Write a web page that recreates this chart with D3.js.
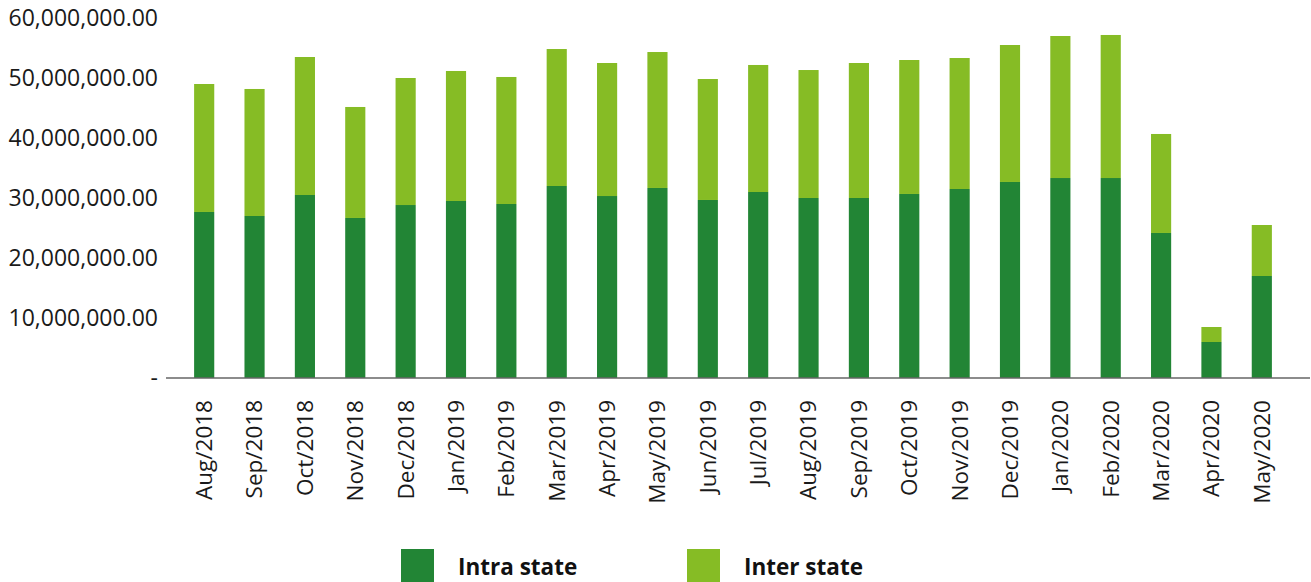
<!DOCTYPE html>
<html>
<head>
<meta charset="utf-8">
<script src="https://cdn.jsdelivr.net/npm/d3@7/dist/d3.min.js"></script>
<style>
  html, body { margin: 0; padding: 0; background: #fff; }
  svg { display: block; font-family: "Open Sans", "Noto Sans", sans-serif; }
</style>
</head>
<body>
<div id="chart"></div>
<script>
// Stacked monthly bars: intra state (dark green) under inter state (light green).

const months = [
  'Aug/2018', 'Sep/2018', 'Oct/2018', 'Nov/2018', 'Dec/2018', 'Jan/2019',
  'Feb/2019', 'Mar/2019', 'Apr/2019', 'May/2019', 'Jun/2019', 'Jul/2019',
  'Aug/2019', 'Sep/2019', 'Oct/2019', 'Nov/2019', 'Dec/2019', 'Jan/2020',
  'Feb/2020', 'Mar/2020', 'Apr/2020', 'May/2020',
];

// values in units
const intraState = [
  27670000, 27000000, 30500000, 26670000, 28830000, 29500000,
  29000000, 32000000, 30330000, 31670000, 29670000, 31000000,
  30000000, 30000000, 30670000, 31500000, 32670000, 33330000,
  33330000, 24170000, 6000000, 17000000,
];
const interState = [
  21330000, 21170000, 23000000, 18500000, 21170000, 21670000,
  21170000, 22830000, 22170000, 22660000, 20160000, 21170000,
  21330000, 22500000, 22330000, 21830000, 22830000, 23670000,
  23840000, 16500000, 2500000, 8500000,
];

const yTicks = [0, 10000000, 20000000, 30000000, 40000000, 50000000, 60000000];
const seriesNames = ['Intra state', 'Inter state'];
const seriesColors = ['#228535', '#86bc25'];

const W = 1311, H = 582;
const svg = d3.select('#chart').append('svg')
  .attr('width', W).attr('height', H)
  .attr('viewBox', `0 0 ${W} ${H}`);

const x = d3.scaleBand()
  .domain(months)
  .range([179, 1287])
  .paddingInner(0.6)
  .paddingOuter(0.3);

const y = d3.scaleLinear()
  .domain([0, 60000000])
  .range([378, 18]);

const rows = months.map((m, i) => ({ month: m, intra: intraState[i], inter: interState[i] }));
const stack = d3.stack().keys(['intra', 'inter'])(rows);

// y labels (accounting style: zero shown as a dash)
const fmt = d3.format(',.2f');
svg.append('g').selectAll('text')
  .data(yTicks)
  .join('text')
  .attr('x', 158)
  .attr('y', (d) => y(d))
  .attr('dy', '0.35em')
  .attr('text-anchor', 'end')
  .attr('font-size', 23)
  .attr('fill', '#1a1a1a')
  .text((d) => (d === 0 ? '-' : fmt(d)));

// bars
svg.append('g').selectAll('g')
  .data(stack)
  .join('g')
  .attr('fill', (s, i) => seriesColors[i])
  .selectAll('rect')
  .data((s) => s)
  .join('rect')
  .attr('x', (d) => x(d.data.month))
  .attr('width', x.bandwidth())
  .attr('y', (d) => y(d[1]))
  .attr('height', (d) => y(d[0]) - y(d[1]));

// baseline
svg.append('line')
  .attr('x1', 166).attr('x2', 1310)
  .attr('y1', y(0)).attr('y2', y(0))
  .attr('stroke', '#666')
  .attr('stroke-width', 1.5);

// month labels, rotated
svg.append('g').selectAll('text')
  .data(months)
  .join('text')
  .attr('transform', (d) => `translate(${x(d) + x.bandwidth() / 2},${y(0) + 22}) rotate(-90)`)
  .attr('dy', '0.35em')
  .attr('text-anchor', 'end')
  .attr('font-size', 22.5)
  .attr('fill', '#1a1a1a')
  .text((d) => d);

// legend
const legendX = [401, 687];
const lg = svg.append('g').selectAll('g')
  .data(seriesNames)
  .join('g')
  .attr('transform', (d, i) => `translate(${legendX[i]},549)`);
lg.append('rect')
  .attr('width', 33).attr('height', 33)
  .attr('fill', (d, i) => seriesColors[i]);
lg.append('text')
  .attr('x', 57)
  .attr('y', 18)
  .attr('dy', '0.35em')
  .attr('font-size', 22.5)
  .attr('font-weight', 700)
  .attr('fill', '#111')
  .text((d) => d);
</script>
</body>
</html>
